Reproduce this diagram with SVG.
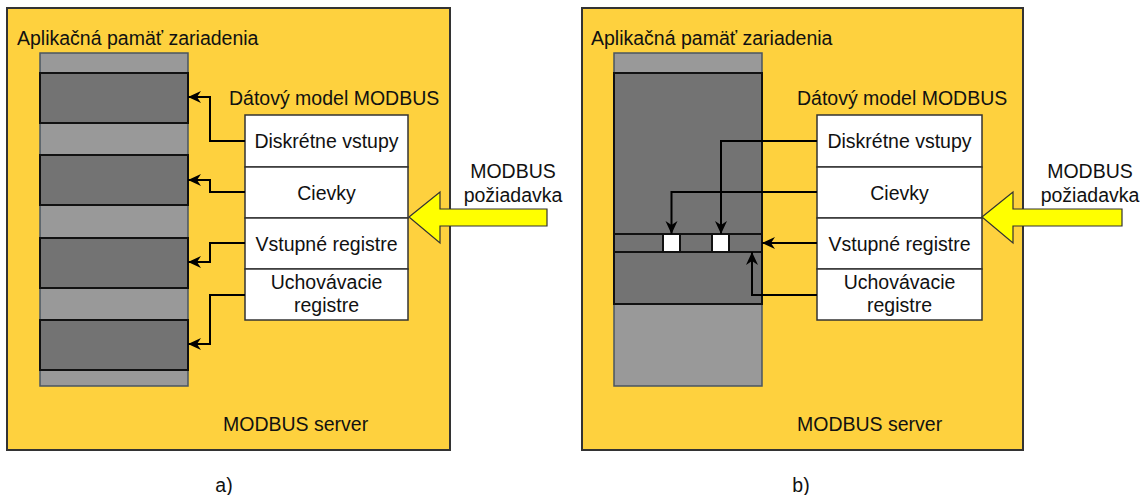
<svg xmlns="http://www.w3.org/2000/svg" width="1144" height="495" viewBox="0 0 1144 495">
<defs>
<style>
text{font-family:"Liberation Sans",Arial,sans-serif;font-size:19.5px;fill:#111}
.mid{text-anchor:middle}
.panel{fill:#FED13E;stroke:#333;stroke-width:2}
.light{fill:#999;stroke:#4a5560;stroke-width:1.5}
.dark{fill:#737373;stroke:#111;stroke-width:2}
.cell{fill:#fff;stroke:#333;stroke-width:1.5}
.bit{fill:#fff;stroke:#111;stroke-width:2}
.big{fill:#FFFF00;stroke:#333;stroke-width:1.2}
.conn path{fill:none;stroke:#000;stroke-width:2;marker-end:url(#ah)}
</style>
<marker id="ah" markerUnits="userSpaceOnUse" markerWidth="14" markerHeight="14" refX="13" refY="7" orient="auto">
<path d="M0,1 L13,7 L0,13 L4,7 Z" fill="#000"/>
</marker>
</defs>
<rect width="1144" height="495" fill="#fff"/>

<!-- Panel a -->
<g id="server-a">
<rect class="panel" x="7" y="8" width="443" height="442"/>
<text x="17" y="45">Aplikačná pamäť zariadenia</text>
<text x="223" y="431">MODBUS server</text>
</g>
<g id="memory-a">
<rect class="light" x="40" y="53" width="148" height="333"/>
<rect class="dark" x="40" y="73" width="148" height="50"/>
<rect class="dark" x="40" y="155" width="148" height="50"/>
<rect class="dark" x="40" y="238" width="148" height="50"/>
<rect class="dark" x="40" y="320" width="148" height="50"/>
</g>
<g id="model-a">
<text x="229" y="105">Dátový model MODBUS</text>
<rect class="cell" x="245" y="115" width="163" height="52"/>
<rect class="cell" x="245" y="167" width="163" height="51"/>
<rect class="cell" x="245" y="218" width="163" height="51"/>
<rect class="cell" x="245" y="269" width="163" height="51"/>
<text class="mid" x="326.5" y="148">Diskrétne vstupy</text>
<text class="mid" x="326.5" y="199.5">Cievky</text>
<text class="mid" x="326.5" y="250.5">Vstupné registre</text>
<text class="mid" x="326.5" y="289">Uchovávacie</text>
<text class="mid" x="326.5" y="312">registre</text>
</g>
<g id="request-a">
<polygon class="big" points="409,217 440,192 440,209 547,209 547,226 440,226 440,243"/>
<text class="mid" x="513" y="178">MODBUS</text>
<text class="mid" x="513" y="202">požiadavka</text>
</g>

<!-- Panel b -->
<g id="server-b">
<rect class="panel" x="582" y="8" width="441" height="442"/>
<text x="591" y="45">Aplikačná pamäť zariadenia</text>
<text x="797" y="431">MODBUS server</text>
</g>
<g id="memory-b">
<rect class="light" x="614" y="53" width="148" height="333"/>
<rect class="dark" x="614" y="73" width="148" height="231"/>
<rect class="dark" x="614" y="234" width="148" height="18"/>
<rect class="bit" x="663" y="234" width="17" height="18"/>
<rect class="bit" x="712" y="234" width="17" height="18"/>
</g>
<g id="model-b">
<text x="797" y="105">Dátový model MODBUS</text>
<rect class="cell" x="817" y="115" width="165" height="52"/>
<rect class="cell" x="817" y="167" width="165" height="51"/>
<rect class="cell" x="817" y="218" width="165" height="51"/>
<rect class="cell" x="817" y="269" width="165" height="51"/>
<text class="mid" x="899.5" y="148">Diskrétne vstupy</text>
<text class="mid" x="899.5" y="199.5">Cievky</text>
<text class="mid" x="899.5" y="250.5">Vstupné registre</text>
<text class="mid" x="899.5" y="289">Uchovávacie</text>
<text class="mid" x="899.5" y="312">registre</text>
</g>
<g id="request-b">
<polygon class="big" points="982,217 1013,192 1013,209 1122,209 1122,226 1013,226 1013,243"/>
<text class="mid" x="1090" y="178">MODBUS</text>
<text class="mid" x="1090" y="202">požiadavka</text>
</g>

<g id="connectors" class="conn">
<path d="M245,141 H210 V97 H188"/>
<path d="M245,192 H210 V180 H188"/>
<path d="M245,243 H210 V262 H188"/>
<path d="M245,295 H210 V344 H188"/>
<path d="M817,141 H721 V234"/>
<path d="M817,192 H671.5 V234"/>
<path d="M817,243 H762"/>
<path d="M817,295 H752 V252"/>
</g>

<g id="captions">
<text class="mid" x="224" y="492">a)</text>
<text class="mid" x="801" y="492">b)</text>
</g>
</svg>
